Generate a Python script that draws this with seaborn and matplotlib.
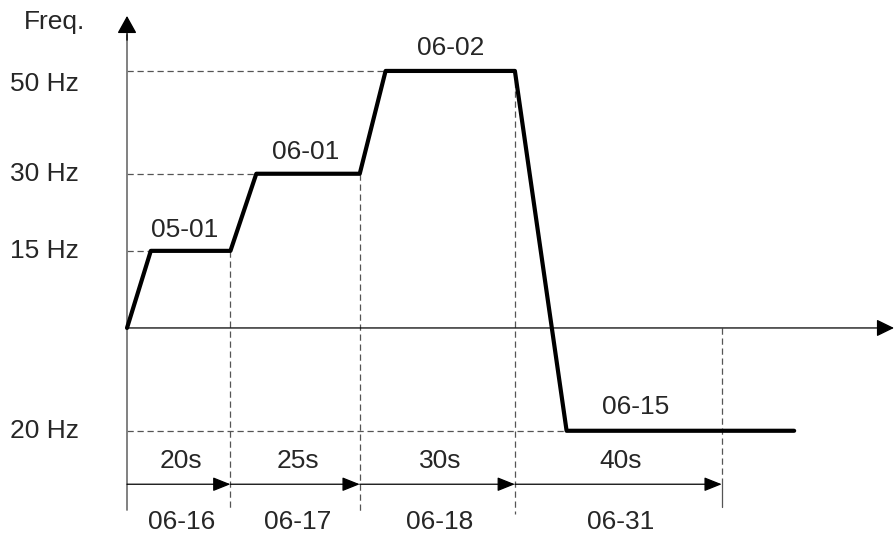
"""
Perfil de frequencia - multi-velocidade
"""

import pandas as pd
import numpy as np
import matplotlib
matplotlib.use('Agg')
import matplotlib.pyplot as plt
import seaborn as sns

# Dados do perfil (tempo em s, frequencia em Hz)
profile_time = [0, 4.6, 20, 25, 45, 50, 75, 85, 129]
profile_freq = [0, 15, 15, 30, 30, 50, 50, -20, -20]

# Niveis de frequencia e rotulos do eixo y
level_freq = [50, 30, 15, -20]
level_labels = ['50 Hz', '30 Hz', '15 Hz', '20 Hz']
level_end_time = [50, 25, 4.6, 85]

# Segmentos de tempo
seg_start = [0, 20, 45, 75]
seg_end = [20, 45, 75, 115]
seg_time_labels = ['20s', '25s', '30s', '40s']
seg_param_labels = ['06-16', '06-17', '06-18', '06-31']

# Rotulos de parametros nos patamares
step_labels = ['05-01', '06-01', '06-02', '06-15']
step_label_x = [11.2, 34.6, 62.5, 98.3]
step_label_y = [19.1, 34.2, 54.5, -15.4]

sns.set_style('white')
plt.rcParams['font.family'] = ['Liberation Sans', 'DejaVu Sans']
plt.rcParams['font.size'] = 19

fig = plt.figure(figsize=(8.95, 5.38), dpi=100)
ax = fig.add_axes([0, 0, 1, 1])

# Linhas tracejadas horizontais
for f, t_end in zip(level_freq, level_end_time):
    ax.plot([0, t_end], [f, f], color='#555555', lw=0.9, ls=(0, (5, 3)))

# Linhas tracejadas verticais
v_top = [15, 30, 50, 0]
v_bottom = [-35.6, -35.6, -36.2, -30.4]
for x, top, bot in zip(seg_end, v_top, v_bottom):
    ax.plot([x, x], [top, bot], color='#555555', lw=0.9, ls=(0, (5, 3)))
ax.plot([seg_end[-1], seg_end[-1]], [-30.4, -34.9], color='#555555', lw=0.9)

# Eixos com setas
ax.plot([0, 0], [-35.4, 57], color='#777777', lw=1.3)
ax.annotate('', xy=(0, 60.7), xytext=(0, 56),
            arrowprops=dict(arrowstyle='-|>,head_length=0.45,head_width=0.25',
                            color='black', lw=1.0,
                            mutation_scale=24, shrinkA=0, shrinkB=0))
ax.annotate('', xy=(148.3, 0), xytext=(0, 0),
            arrowprops=dict(arrowstyle='-|>,head_length=0.45,head_width=0.22',
                            color='black', lw=0.9,
                            mutation_scale=24, shrinkA=0, shrinkB=0))

# Perfil
df = pd.DataFrame({'t': profile_time, 'f': profile_freq})
sns.lineplot(data=df, x='t', y='f', ax=ax, color='black', lw=3, sort=False)
ax.axis('off')
ax.set_xlim(-24.56, 148.5)
ax.set_ylim(-40.86, 63.8)

# Setas dos segmentos
for s, e in zip(seg_start, seg_end):
    ax.annotate('', xy=(e, -30.4), xytext=(s, -30.4),
                arrowprops=dict(arrowstyle='-|>,head_length=0.45,head_width=0.18',
                                color='black', lw=0.9,
                                mutation_scale=24, shrinkA=0, shrinkB=0))

# Textos
for s, e, tl, pl in zip(seg_start, seg_end, seg_time_labels, seg_param_labels):
    mid = (s + e) / 2 + 0.5
    ax.text(mid, -25.9, tl, ha='center', va='center')
    ax.text(mid, -37.8, pl, ha='center', va='center')

for lbl, x, y in zip(step_labels, step_label_x, step_label_y):
    ax.text(x, y, lbl, ha='center', va='center')

label_y = [47.5, 30, 15, -20]
for lbl, y in zip(level_labels, label_y):
    ax.text(-16, y, lbl, ha='center', va='center')
ax.text(-14.1, 59.5, 'Freq.', ha='center', va='center')

plt.savefig('out.png', dpi=100)
plt.close()
